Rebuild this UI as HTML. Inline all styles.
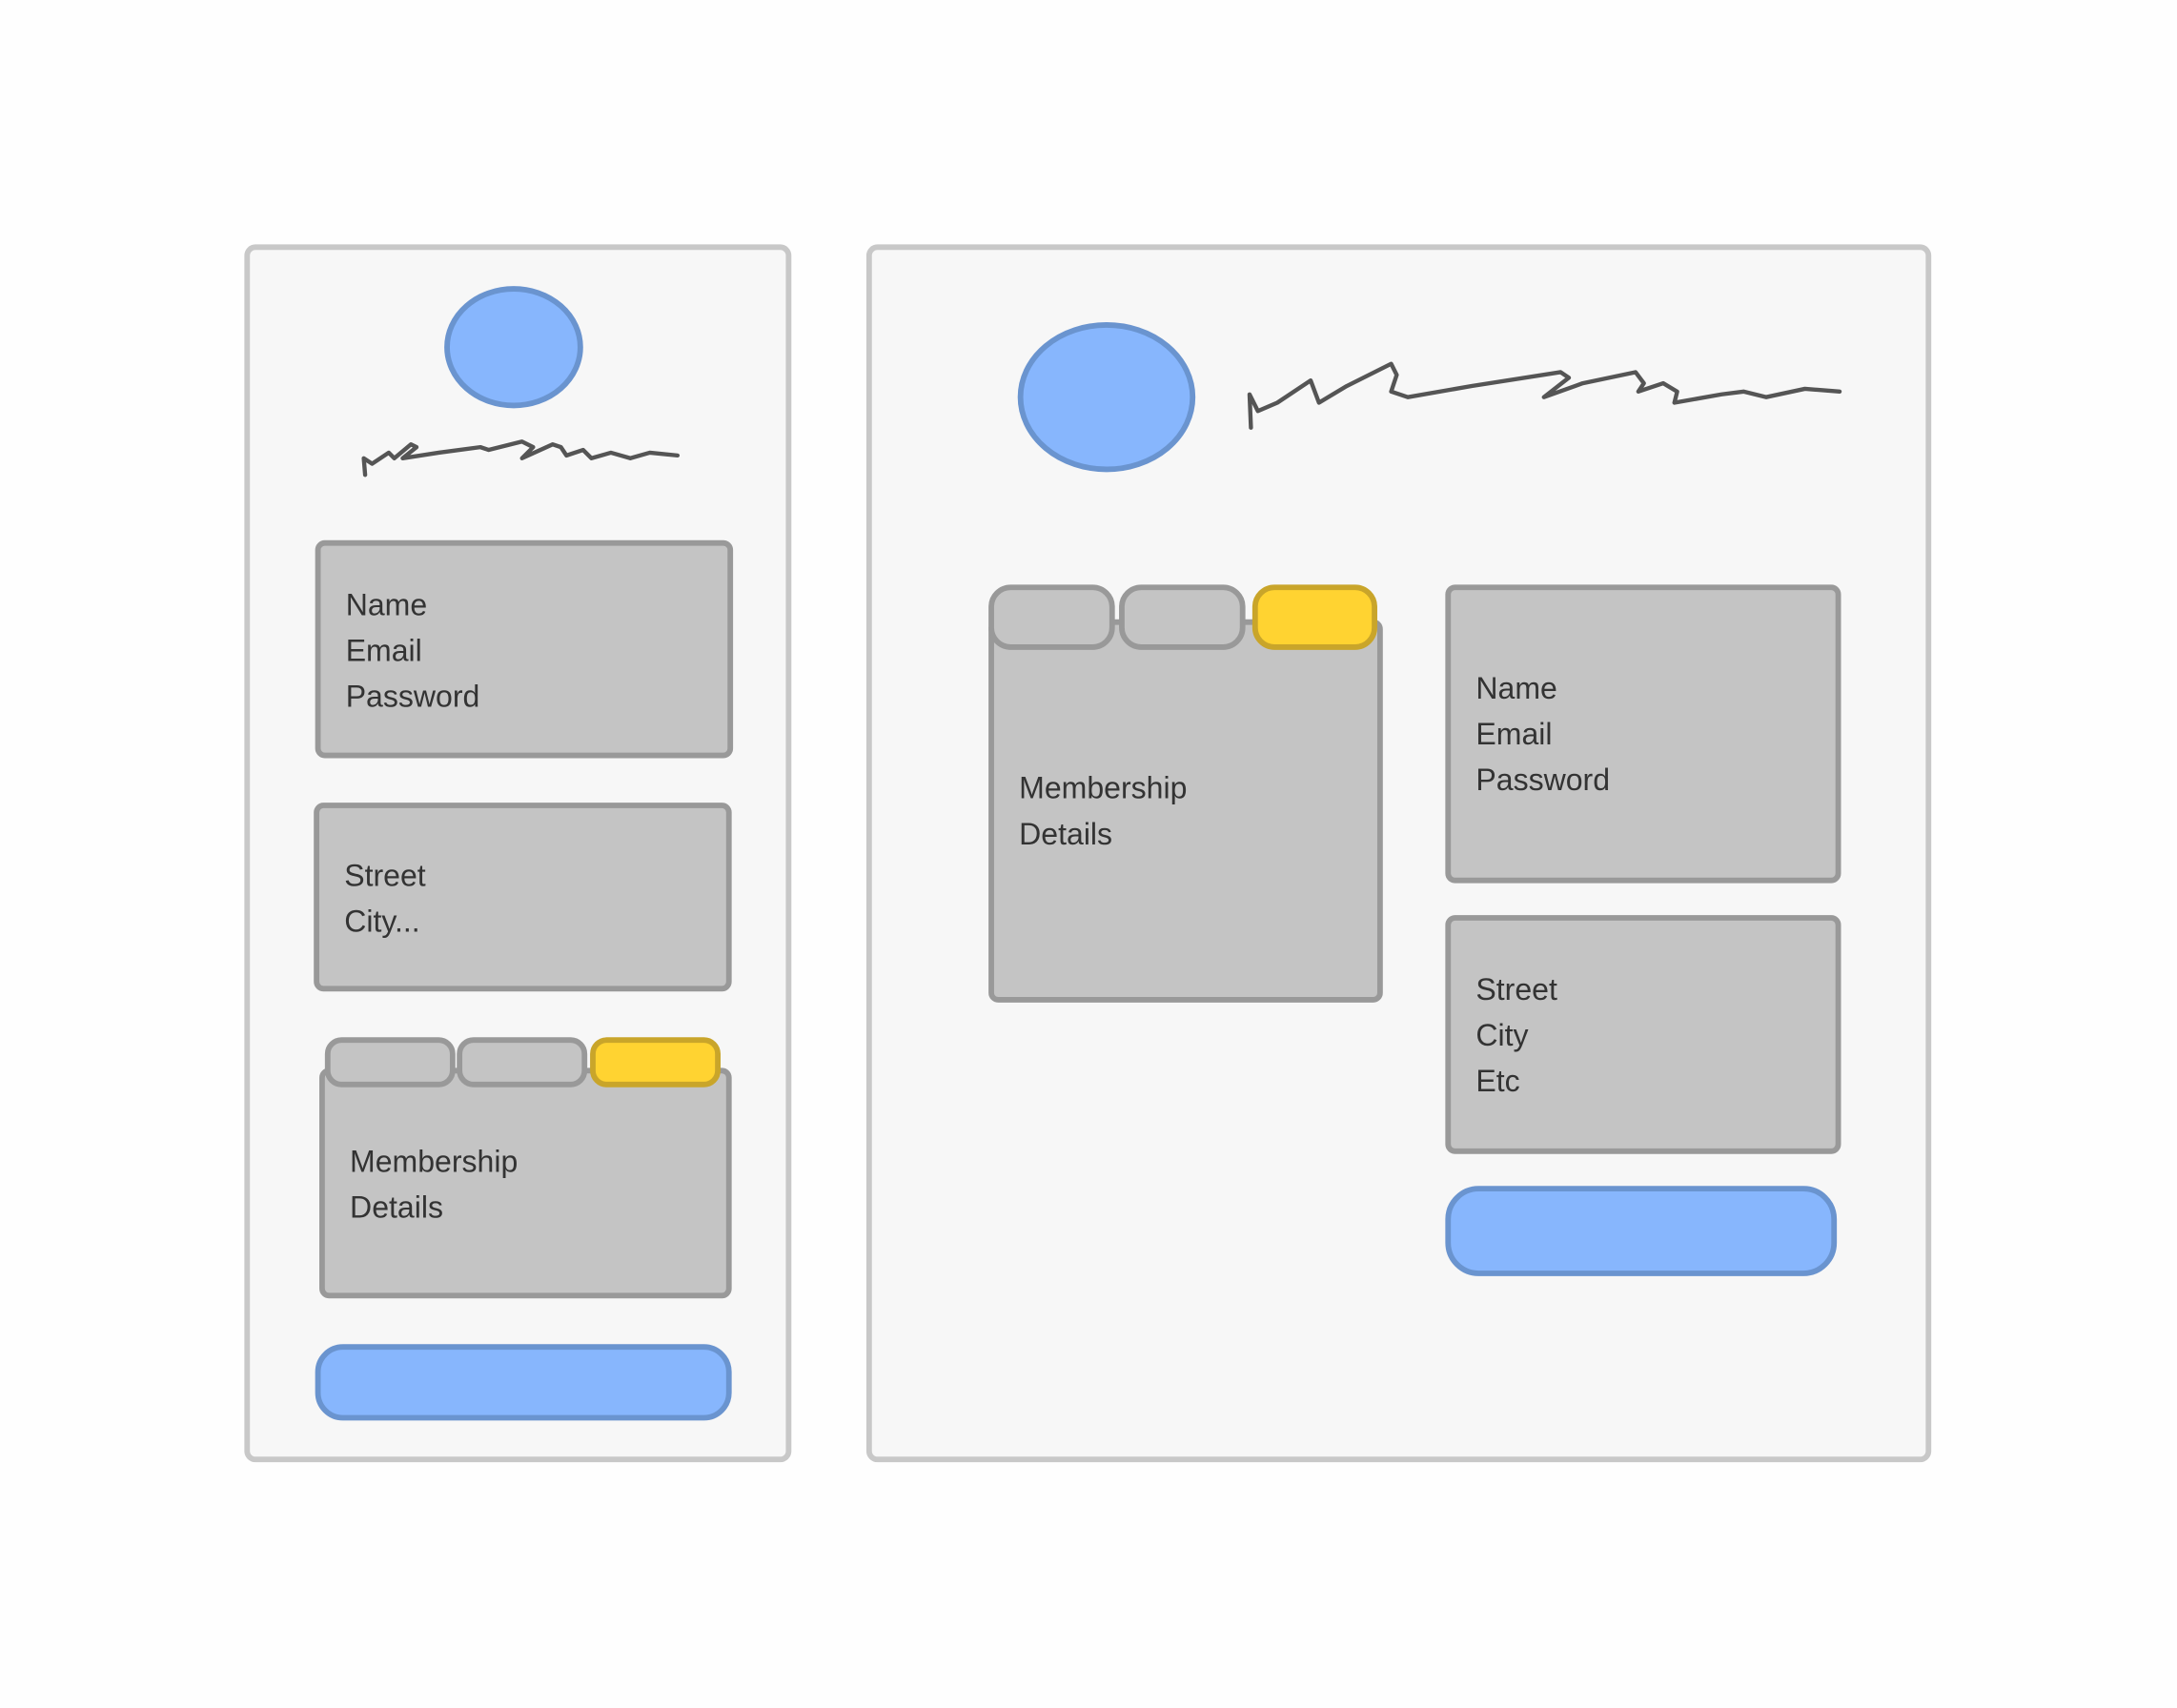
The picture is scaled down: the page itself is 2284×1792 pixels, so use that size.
<!DOCTYPE html>
<html><head><meta charset="utf-8"><style>
html,body{margin:0;padding:0;background:#fff;}
svg{display:block;}
text{font-family:"Liberation Sans",sans-serif;font-size:22px;fill:#333;}
</style></head><body>
<svg width="2284" height="1792" viewBox="0 0 1568 1230" preserveAspectRatio="none">
<rect width="1568" height="1230" fill="#fefefe"/>
<!-- Left panel -->
<rect x="178" y="178" width="390" height="873" rx="6" fill="#f7f7f7" stroke="#c8c8c8" stroke-width="4"/>
<ellipse cx="370" cy="250" rx="48" ry="42" fill="#87b6fd" stroke="#6a94cf" stroke-width="4"/>
<path d="M263,342 L262,330 L268,334 L280,326 L284,330 L296,320 L300,322 L290,330 L316,326 L346,322 L352,324 L376,318 L384,322 L376,330 L398,320 L404,322 L408,328 L420,324 L426,330 L440,326 L454,330 L468,326 L488,328" fill="none" stroke="#555" stroke-width="3" stroke-linejoin="round" stroke-linecap="round"/>
<rect x="229" y="391" width="297" height="153" rx="5" fill="#c4c4c4" stroke="#999" stroke-width="4"/>
<text x="249" y="443">Name</text><text x="249" y="476">Email</text><text x="249" y="509">Password</text>
<rect x="228" y="580" width="297" height="132" rx="5" fill="#c4c4c4" stroke="#999" stroke-width="4"/>
<text x="248" y="638">Street</text><text x="248" y="671">City...</text>
<rect x="232" y="771" width="293" height="162" rx="5" fill="#c4c4c4" stroke="#999" stroke-width="4"/>
<rect x="236" y="749" width="90" height="32" rx="10" fill="#c4c4c4" stroke="#999" stroke-width="4"/>
<rect x="331" y="749" width="90" height="32" rx="10" fill="#c4c4c4" stroke="#999" stroke-width="4"/>
<rect x="427" y="749" width="90" height="32" rx="10" fill="#ffd331" stroke="#c9a52a" stroke-width="4"/>
<text x="252" y="844">Membership</text><text x="252" y="877">Details</text>
<rect x="229" y="970" width="296" height="51" rx="18" fill="#87b6fd" stroke="#6a94cf" stroke-width="4"/>
<!-- Right panel -->
<rect x="626" y="178" width="763" height="873" rx="6" fill="#f7f7f7" stroke="#c8c8c8" stroke-width="4"/>
<ellipse cx="797" cy="286" rx="62" ry="52" fill="#87b6fd" stroke="#6a94cf" stroke-width="4"/>
<path d="M901,308 L900,284 L906,296 L920,290 L944,274 L950,290 L970,278 L1002,262 L1006,270 L1002,282 L1014,286 L1060,278 L1124,268 L1130,272 L1112,286 L1140,276 L1178,268 L1184,276 L1180,282 L1198,276 L1208,282 L1206,290 L1240,284 L1256,282 L1272,286 L1300,280 L1325,282" fill="none" stroke="#555" stroke-width="3" stroke-linejoin="round" stroke-linecap="round"/>
<rect x="714" y="448" width="280" height="272" rx="5" fill="#c4c4c4" stroke="#999" stroke-width="4"/>
<rect x="714" y="423" width="87" height="43" rx="14" fill="#c4c4c4" stroke="#999" stroke-width="4"/>
<rect x="808" y="423" width="87" height="43" rx="14" fill="#c4c4c4" stroke="#999" stroke-width="4"/>
<rect x="904" y="423" width="86" height="43" rx="14" fill="#ffd331" stroke="#c9a52a" stroke-width="4"/>
<text x="734" y="575">Membership</text><text x="734" y="608">Details</text>
<rect x="1043" y="423" width="281" height="211" rx="5" fill="#c4c4c4" stroke="#999" stroke-width="4"/>
<text x="1063" y="503">Name</text><text x="1063" y="536">Email</text><text x="1063" y="569">Password</text>
<rect x="1043" y="661" width="281" height="168" rx="5" fill="#c4c4c4" stroke="#999" stroke-width="4"/>
<text x="1063" y="720">Street</text><text x="1063" y="753">City</text><text x="1063" y="786">Etc</text>
<rect x="1043" y="856" width="278" height="61" rx="22" fill="#87b6fd" stroke="#6a94cf" stroke-width="4"/>
</svg>
</body></html>
